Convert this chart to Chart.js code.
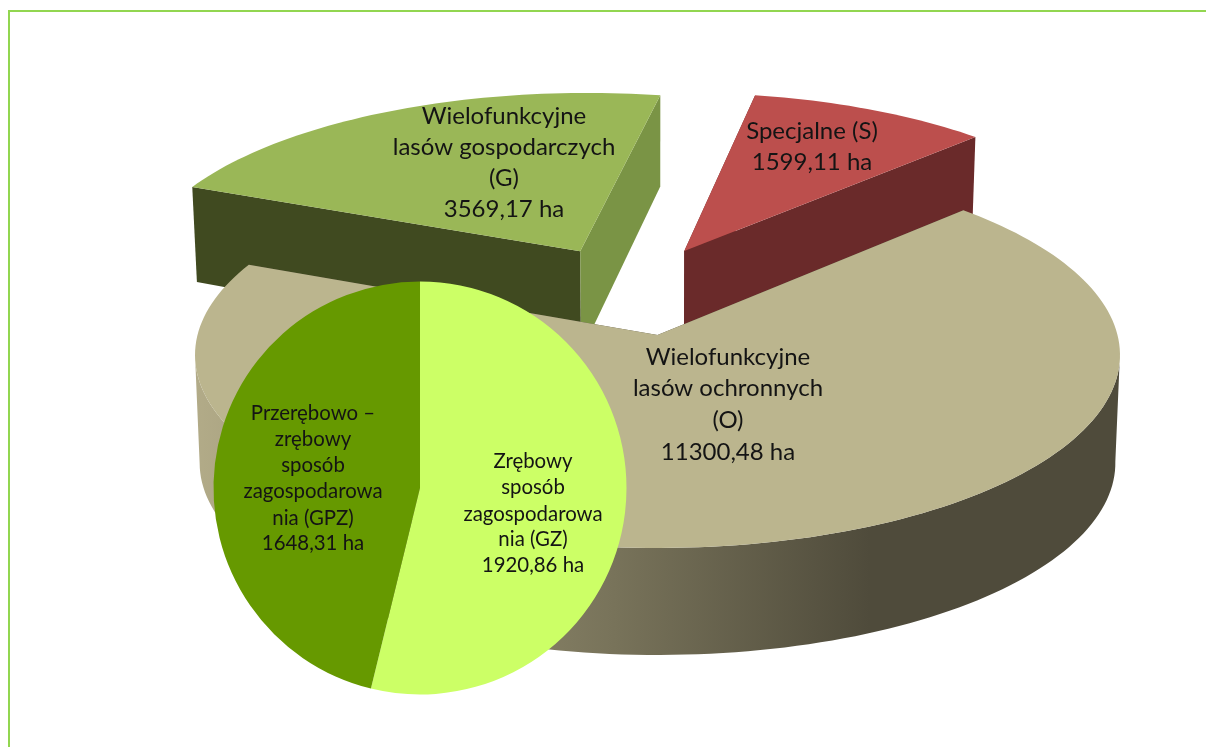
<!DOCTYPE html>
<html lang="pl">
<head>
<meta charset="utf-8">
<title>Wykres</title>
<script src="https://cdn.jsdelivr.net/npm/chart.js@4"></script>
<style>
html,body{margin:0;padding:0;background:#fff;width:1206px;height:747px;overflow:hidden}
#frame{position:absolute;left:8px;top:10px;width:1198px;height:737px;box-sizing:border-box;border-left:2px solid #92D650;border-top:2px solid #92D650}
canvas{position:absolute;left:0;top:0}
</style>
</head>
<body>
<div id="frame"></div>
<div style="position:absolute;left:0;top:0;width:1206px;height:747px"><canvas id="main" width="1206" height="747"></canvas></div>
<div style="position:absolute;left:0;top:0;width:1206px;height:747px"><canvas id="sub" width="1206" height="747"></canvas></div>
<script>
// ---- data ----
const mainCategories = ['Wielofunkcyjne lasów ochronnych (O)', 'Wielofunkcyjne lasów gospodarczych (G)', 'Specjalne (S)'];
const mainValues = [11300.48, 3569.17, 1599.11];
const subCategories = ['Zrębowy sposób zagospodarowania (GZ)', 'Przerębowo – zrębowy sposób zagospodarowania (GPZ)'];
const subValues = [1920.86, 1648.31];
const mainLabels = [
  ['Wielofunkcyjne', 'lasów ochronnych', '(O)', '11300,48 ha'],
  ['Wielofunkcyjne', 'lasów gospodarczych', '(G)', '3569,17 ha'],
  ['Specjalne (S)', '1599,11 ha']
];
const subLabels = [
  ['Zrębowy', 'sposób', 'zagospodarowa', 'nia (GZ)', '1920,86 ha'],
  ['Przerębowo –', 'zrębowy', 'sposób', 'zagospodarowa', 'nia (GPZ)', '1648,31 ha']
];
const topColors = ['#BBB58E', '#9AB757', '#BC4F4D'];
const startWallColors = ['#4F4B3B', '#404A20', '#6A2A2A'];
const endWallColors = ['#4F4B3B', '#7A9445', '#6A2A2A'];
const subColors = ['#CCFF66', '#669900'];

// ---- view settings ----
const FONT = 'Lato, "Open Sans", sans-serif';
const PERSPECTIVE = 0.1036, TILT = 190.9 / 460;
const WALL_SHRINK = 0.99;
const WALL_TABLE = [[-1.6, 90], [-0.85, 95], [-0.4, 102], [0, 108], [1, 107]]; // wall height by depth
const EXPLODE = [[0, 0], [-0.176, -0.46], [0.061, -0.461]];   // slice offsets on the disc
const DRAW_ORDER = [1, 2, 0];
const mainLabelPos = [[728, [357, 388, 420, 452]], [504, [116, 147, 178, 209]], [812, [131, 162]]];
const subLabelPos = [[533, [461, 487, 514, 539, 565]], [313, [413, 439, 465, 491, 518, 543]]];

function wallHeight(v) {
  for (let k = 1; k < WALL_TABLE.length; k++) {
    if (v <= WALL_TABLE[k][0]) {
      const p = WALL_TABLE[k - 1], q = WALL_TABLE[k];
      return p[1] + (q[1] - p[1]) * (v - p[0]) / (q[0] - p[0]);
    }
  }
  return WALL_TABLE[WALL_TABLE.length - 1][1];
}

function drawLines(ctx, lines, x, ys, font) {
  ctx.save();
  ctx.font = font;
  ctx.fillStyle = '#141414';
  ctx.textAlign = 'center';
  ctx.textBaseline = 'middle';
  lines.forEach((t, i) => ctx.fillText(t, x, ys[i]));
  ctx.restore();
}

const pie3d = {
  id: 'pie3d',
  beforeDatasetsDraw(chart) {
    const ctx = chart.ctx;
    const arcs = chart.getDatasetMeta(0).data;
    DRAW_ORDER.forEach(i => {
      const a = arcs[i];
      const R = a.outerRadius, off = EXPLODE[i];
      const top = (u, v) => {
        const U = u + off[0], V = v + off[1], w = 1 - PERSPECTIVE * V;
        return [a.x + R * U / w, a.y + R * TILT * V / w, V];
      };
      const bot = (u, v) => {
        const p = top(u, v);
        return [a.x + (p[0] - a.x) * WALL_SHRINK, p[1] + wallHeight(p[2])];
      };
      const arcPts = (fn) => {
        const pts = [], n = Math.ceil((a.endAngle - a.startAngle) * 40);
        for (let k = 0; k <= n; k++) {
          const t = a.startAngle + (a.endAngle - a.startAngle) * k / n;
          pts.push(fn(Math.cos(t), Math.sin(t)));
        }
        return pts;
      };
      const fillPoly = (pts, fill) => {
        ctx.beginPath();
        pts.forEach((p, k) => k ? ctx.lineTo(p[0], p[1]) : ctx.moveTo(p[0], p[1]));
        ctx.closePath();
        ctx.fillStyle = fill;
        ctx.fill();
      };
      const radial = (t, fill) => {
        const c = Math.cos(t), s = Math.sin(t);
        fillPoly([top(0, 0), top(c, s), bot(c, s), bot(0, 0)], fill);
      };
      radial(a.startAngle, startWallColors[i]);
      radial(a.endAngle, endWallColors[i]);
      if (i === 0) {
        const g = ctx.createLinearGradient(195, 0, 870, 0);
        g.addColorStop(0, '#B2AB88');
        g.addColorStop(0.62, '#78735A');
        g.addColorStop(1, '#4F4B3B');
        // only the front of the rim, between its leftmost and rightmost points
        const t = arcPts(top), b = arcPts(bot);
        let r = 0, l = 0;
        t.forEach((p, k) => { if (p[0] > t[r][0]) r = k; if (p[0] < t[l][0]) l = k; });
        fillPoly(t.slice(r, l + 1).concat(b.slice(r, l + 1).reverse()), g);
      }
      fillPoly([top(0, 0)].concat(arcPts(top)), topColors[i]);
    });
    return false;
  },
  afterDraw(chart) {
    mainLabels.forEach((lines, i) => drawLines(chart.ctx, lines, mainLabelPos[i][0], mainLabelPos[i][1], '24px ' + FONT));
  }
};

const subText = {
  id: 'subText',
  afterDraw(chart) {
    subLabels.forEach((lines, i) => drawLines(chart.ctx, lines, subLabelPos[i][0], subLabelPos[i][1], '20.4px ' + FONT));
  }
};

const base = { responsive: false, animation: false, plugins: { legend: { display: false }, tooltip: { enabled: false } } };

new Chart(document.getElementById('main'), {
  type: 'pie',
  data: { labels: mainCategories, datasets: [{ data: mainValues, backgroundColor: topColors, borderWidth: 0 }] },
  options: { ...base, radius: 460, rotation: 45.5, layout: { padding: { left: 109, bottom: 77 } } },
  plugins: [pie3d]
});

new Chart(document.getElementById('sub'), {
  type: 'pie',
  data: { labels: subCategories, datasets: [{ data: subValues, backgroundColor: subColors, borderWidth: 0 }] },
  options: { ...base, radius: 206.5, rotation: 0, layout: { padding: { right: 366, top: 229 } } },
  plugins: [subText]
});
</script>
</body>
</html>
